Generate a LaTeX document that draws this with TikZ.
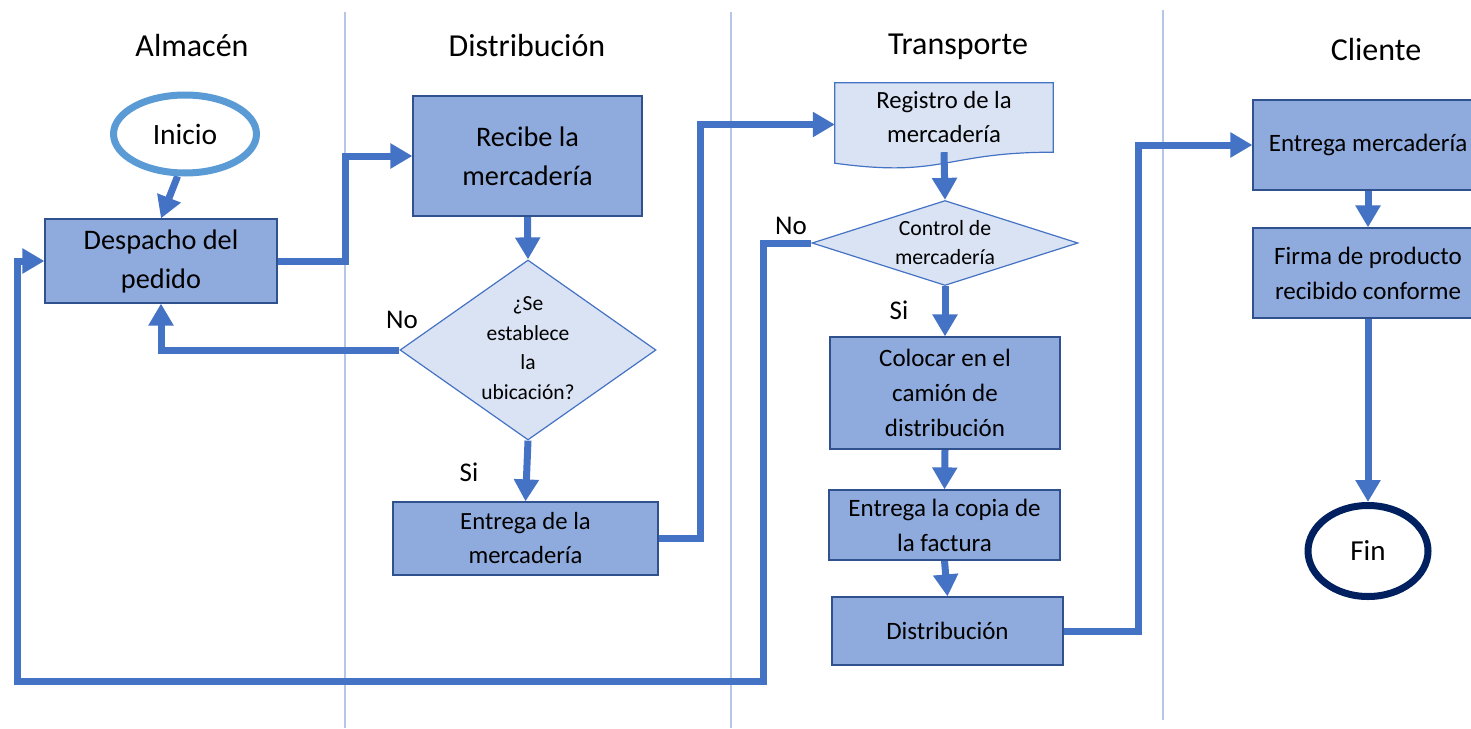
\documentclass[tikz,border=0pt]{standalone}
\usepackage{fontspec}
\setmainfont{Carlito}
\usetikzlibrary{arrows.meta,shapes.geometric,backgrounds,calc}
\definecolor{boxfill}{HTML}{8FAADC}
\definecolor{boxline}{HTML}{2F528F}
\definecolor{lightfill}{HTML}{DAE3F3}
\definecolor{midblue}{HTML}{4472C4}
\definecolor{startblue}{HTML}{5B9BD5}
\definecolor{navyblue}{HTML}{002060}
\definecolor{lanecol}{HTML}{B4C7E7}
\begin{document}
\begin{tikzpicture}[x=1pt,y=-1pt,
  procbox/.style={rectangle, draw=boxline, line width=1.2pt, fill=boxfill, align=center, inner sep=2pt},
  decbox/.style={diamond, draw=midblue, line width=1.2pt, fill=lightfill, inner sep=0pt},
  termbox/.style={ellipse, fill=white, line width=7pt, inner sep=0pt},
  flowarrow/.style={draw=midblue, line width=7pt, -{Triangle[length=22pt,width=24pt]}},
  laneline/.style={draw=lanecol, line width=1.3pt},
  hdr/.style={font=\fontsize{32pt}{38pt}\selectfont},
  lbl/.style={font=\fontsize{27pt}{30pt}\selectfont},
  t28/.style={font=\fontsize{28.3pt}{39pt}\selectfont},
  t25/.style={font=\fontsize{25pt}{35pt}\selectfont},
  t247/.style={font=\fontsize{24.7pt}{34pt}\selectfont},
  t215/.style={font=\fontsize{21.5pt}{29.5pt}\selectfont},
  t217/.style={font=\fontsize{21.7pt}{29pt}\selectfont}]
\useasboundingbox (0,0) rectangle (1471,728);

% headers
\node[hdr] (hA) at (192,46) {Almacén};
\node[hdr] (hD) at (527,46) {Distribución};
\node[hdr] (hT) at (958,47) {Transporte};
\node[hdr] (hC) at (1376,50) {Cliente};

% Almacen
\node[termbox, draw=startblue, minimum width=143pt, minimum height=78pt, font=\fontsize{29.5pt}{32pt}\selectfont] (ini) at (185,134) {Inicio};
\node[procbox, t28, minimum width=232pt, minimum height=84pt] (desp) at (161,261) {Despacho del\\pedido};

% Distribucion
\node[procbox, t28, minimum width=229pt, minimum height=120pt] (rec) at (527.5,156) {Recibe la\\mercadería};
\node[decbox, minimum width=256pt, minimum height=180pt] (d1) at (528,350) {};
\node[t215, align=center] (d1t) at (528,348) {¿Se\\establece\\la\\ubicación?};
\node[procbox, t247, minimum width=265pt, minimum height=73pt] (ent) at (525.5,538.5) {Entrega de la\\mercadería};

% Transporte
\node[t247, align=center, minimum width=218pt, minimum height=69pt, inner sep=0pt] (reg) at (944,117.5) {Registro de la\\mercadería};
\begin{scope}[on background layer]
\fill[lightfill] (reg.north west) -- (reg.north east) -- (reg.south east)
  .. controls (reg.south) and ($(reg.south)+(0,26)$) .. ($(reg.south west)+(0,11)$) -- cycle;
\end{scope}
\draw[midblue, line width=1.2pt] (reg.north west) -- (reg.north east) -- (reg.south east)
  .. controls (reg.south) and ($(reg.south)+(0,26)$) .. ($(reg.south west)+(0,11)$) -- cycle;
\node[decbox, minimum width=266pt, minimum height=85pt] (d2) at (945,243) {};
\node[t217, align=center] (d2t) at (945,243) {Control de\\mercadería};
\node[procbox, t25, minimum width=230pt, minimum height=112pt] (col) at (945,393) {Colocar en el\\camión de\\distribución};
\node[procbox, t25, minimum width=231pt, minimum height=70pt] (cop) at (944.5,525) {Entrega la copia de\\la factura};
\node[procbox, t25, minimum width=231pt, minimum height=68pt] (dis) at (947.5,631) {Distribución};

% Cliente
\node[procbox, t25, minimum width=230pt, minimum height=90pt] (em) at (1368,145) {Entrega mercadería};
\node[procbox, t25, minimum width=230pt, minimum height=90pt] (fir) at (1368,273) {Firma de producto\\recibido conforme};
\node[termbox, draw=navyblue, minimum width=120pt, minimum height=91pt, font=\fontsize{29pt}{32pt}\selectfont] (fin) at (1368,551) {Fin};

% labels
\node[lbl] (no1) at (402,320) {No};
\node[lbl] (si1) at (469,472) {Si};
\node[lbl] (no2) at (791,226) {No};
\node[lbl] (si2) at (899,310) {Si};

\coordinate (loopA) at (763,681);
\coordinate (loopB) at (17,261);

\begin{scope}[on background layer]
% lane separators
\draw[laneline] (345,12) -- (345,728);
\draw[laneline] (731,12) -- (731,728);
\draw[laneline] (1163,10) -- (1163,720);
% connectors
\draw[flowarrow] (ini.-100) -- (desp.north);
\draw[flowarrow] (desp.east) -- ++(68,0) |- (rec.west);
\draw[flowarrow] (rec.south) -- (d1.north);
\draw[flowarrow] (d1.west) -| (desp.south);
\draw[flowarrow] (d1.south) -- (ent.north);
\draw[flowarrow] (ent.east) -- ++(42,0) |- ($(reg.west)+(0,7)$);
\draw[flowarrow] (reg.south) -- (d2.north);
\draw[flowarrow] (d2.west) -| (loopA) -| (loopB) -- (desp.west);
\draw[flowarrow] (d2.south) -- (col.north);
\draw[flowarrow] (col.south) -- (cop.north);
\draw[flowarrow] (cop.south) -- (dis.north);
\draw[flowarrow] (dis.east) -- ++(75,0) |- (em.west);
\draw[flowarrow] (em.south) -- (fir.north);
\draw[flowarrow] (fir.south) -- (fin.north);
\end{scope}
\end{tikzpicture}
\end{document}
